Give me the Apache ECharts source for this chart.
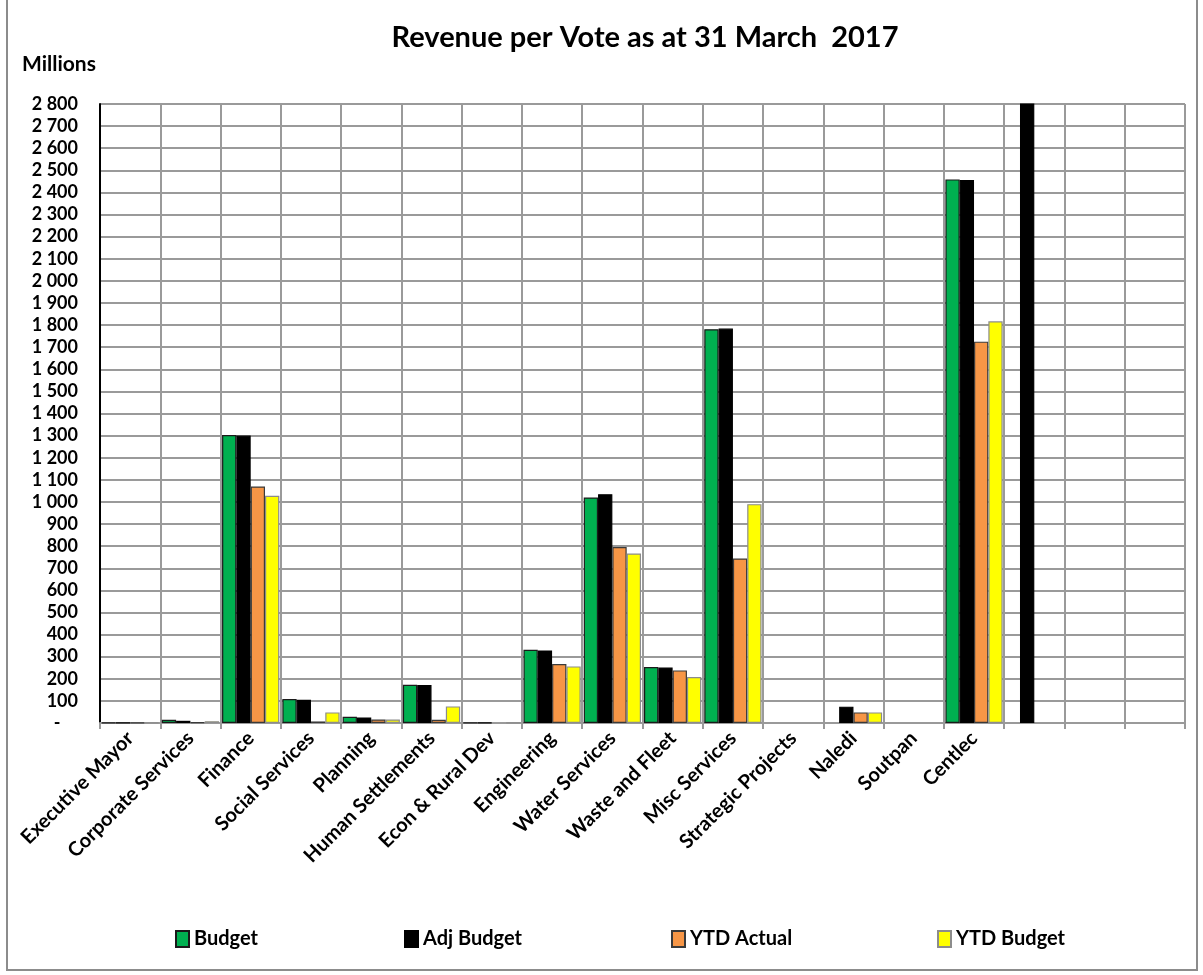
<!DOCTYPE html>
<html>
<head>
<meta charset="utf-8">
<title>Revenue per Vote as at 31 March 2017</title>
<script src="https://cdn.jsdelivr.net/npm/echarts@6/dist/echarts.min.js"></script>
<style>
  html, body { margin: 0; padding: 0; background: #fff; }
  #chart { width: 1203px; height: 975px; }
</style>
</head>
<body>
<div id="chart"></div>
<script>
// Votes (departments); the last three slots carry no label
const categories = [
  'Executive Mayor', 'Corporate Services', 'Finance', 'Social Services', 'Planning',
  'Human Settlements', 'Econ & Rural Dev', 'Engineering', 'Water Services',
  'Waste and Fleet', 'Misc Services', 'Strategic Projects', 'Naledi', 'Soutpan',
  'Centlec', '', '', ''
];

// Revenue in millions of rand (null = no amount for that vote)
const budget    = [2, 15, 1303, 108, 28, 173, 1, 331, 1020, 253, 1781, null, null, null, 2459, null, null, null];
const adjBudget = [1, 10, 1300, 105, 25, 172, 1, 328, 1035, 251, 1784, null, 74, null, 2456, 7550, null, null];
const ytdActual = [1, 4, 1070, 7, 16, 15, null, 267, 796, 238, 744, null, 48, null, 1725, null, null, null];
const ytdBudget = [2, 8, 1028, 48, 16, 75, 1, 256, 767, 208, 990, null, 48, null, 1817, null, null, null];

const yTicks = { min: 0, max: 2800, interval: 100 };

const FONT = 'Lato';
const GRID_GREY = '#9a9a9a';

function fmtMillions(v) {
  if (v === 0) return '-    ';
  if (v >= 1000) {
    const th = Math.floor(v / 1000);
    const rest = String(v % 1000).padStart(3, '0');
    return th + ' ' + rest;
  }
  return String(v);
}

function barSeries(name, data, fill, border) {
  return {
    name: name,
    type: 'bar',
    data: data,
    barGap: '0%',
    barCategoryGap: '5%',
    clip: true,
    itemStyle: { color: fill, borderColor: border, borderWidth: 1.2 },
    emphasis: { disabled: true }
  };
}

function legendAt(name, left) {
  return {
    data: [name],
    left: left,
    top: 924,
    itemWidth: 13,
    itemHeight: 16,
    itemGap: 6,
    icon: 'rect',
    textStyle: { fontFamily: FONT, fontWeight: 'bold', fontSize: 20, color: '#000' }
  };
}

const chart = echarts.init(document.getElementById('chart'), null, { renderer: 'canvas' });

chart.setOption({
  animation: false,
  backgroundColor: '#fff',
  title: {
    text: 'Revenue per Vote as at 31 March  2017',
    left: 640,
    top: 18,
    textAlign: 'center',
    textStyle: { fontFamily: FONT, fontWeight: 'bold', fontSize: 29, color: '#000' }
  },
  graphic: [
    {
      type: 'text',
      left: 22,
      top: 54,
      style: { text: 'Millions', fontFamily: FONT, fontWeight: 'bold', fontSize: 21, fill: '#000' }
    },
    {
      type: 'polyline',
      shape: { points: [[7, 0], [7, 970], [1197, 970], [1197, 0]] },
      style: { stroke: '#8c8c8c', lineWidth: 2, fill: null },
      silent: true
    }
  ],
  legend: [
    legendAt('Budget', 170),
    legendAt('Adj Budget', 399),
    legendAt('YTD Actual', 666),
    legendAt('YTD Budget', 932)
  ],
  grid: { left: 100, right: 18, top: 104, bottom: 252, containLabel: false },
  xAxis: {
    type: 'category',
    data: categories,
    boundaryGap: true,
    axisLine: { show: true, lineStyle: { color: GRID_GREY, width: 2 } },
    axisTick: { show: true, length: 6, lineStyle: { color: GRID_GREY, width: 2 } },
    splitLine: { show: true, lineStyle: { color: GRID_GREY, width: 2 } },
    axisLabel: {
      interval: 0,
      rotate: 45,
      margin: 12,
      fontFamily: FONT,
      fontWeight: 'bold',
      fontSize: 20,
      color: '#000'
    }
  },
  yAxis: {
    type: 'value',
    min: yTicks.min,
    max: yTicks.max,
    interval: yTicks.interval,
    axisLine: { show: true, lineStyle: { color: '#000', width: 2 } },
    axisTick: { show: false },
    splitLine: { show: true, lineStyle: { color: GRID_GREY, width: 2 } },
    axisLabel: {
      margin: 22,
      fontFamily: FONT,
      fontWeight: 'bold',
      fontSize: 18,
      color: '#000',
      formatter: fmtMillions
    }
  },
  series: [
    barSeries('Budget', budget, '#00B050', '#1a1a1a'),
    barSeries('Adj Budget', adjBudget, '#000000', '#000000'),
    barSeries('YTD Actual', ytdActual, '#F79646', '#3a3a3a'),
    barSeries('YTD Budget', ytdBudget, '#FFFF00', '#8c8c8c')
  ]
});
</script>
</body>
</html>
